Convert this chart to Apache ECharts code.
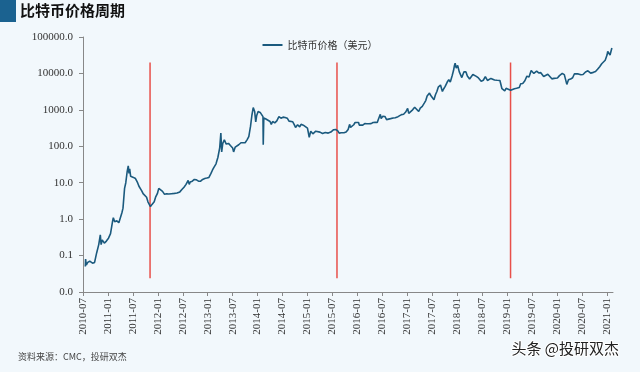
<!DOCTYPE html>
<html><head><meta charset="utf-8">
<script src="https://cdn.jsdelivr.net/npm/echarts@6/dist/echarts.min.js"></script>
<style>html,body{margin:0;padding:0;background:#f2f8fc;}#c{width:640px;height:372px;}</style>
</head><body><div id="c"></div>
<script>
const title = '比特币价格周期';
const seriesName = '比特币价格（美元）';
const source = '资料来源：CMC，投研双杰';
const watermark = '头条 @投研双杰';
const yTicks = [0.01, 0.1, 1, 10, 100, 1000, 10000, 100000];
const xTickLabels = ['2010-07','2011-01','2011-07','2012-01','2012-07','2013-01','2013-07','2014-01','2014-07','2015-01','2015-07','2016-01','2016-07','2017-01','2017-07','2018-01','2018-07','2019-01','2019-07','2020-01','2020-07','2021-01'];
const cycleDates = ['2011-11-05','2015-08-04','2019-01-27'];
const cycleRange = [0.024, 20000];
const dates = [
'2010-07-18','2010-07-20','2010-07-25','2010-08-05','2010-08-20','2010-09-10','2010-09-25','2010-10-10','2010-10-25','2010-11-06','2010-11-12','2010-11-20','2010-12-05','2010-12-20',
'2011-01-05','2011-01-20','2011-02-05','2011-02-10','2011-02-20','2011-03-05','2011-03-20','2011-04-01','2011-04-12','2011-04-20','2011-05-01','2011-05-10','2011-05-20','2011-05-28','2011-06-03','2011-06-08','2011-06-15','2011-06-25','2011-07-05','2011-07-20','2011-08-05','2011-08-15','2011-08-25','2011-09-05','2011-09-15','2011-09-25','2011-10-10','2011-10-20','2011-11-01','2011-11-08','2011-11-18','2011-11-25','2011-12-05','2011-12-15','2011-12-28',
'2012-01-08','2012-01-20','2012-02-05','2012-02-20','2012-03-05','2012-03-20','2012-04-10','2012-05-01','2012-05-20','2012-06-10','2012-06-25','2012-07-10','2012-07-25','2012-08-10','2012-08-18','2012-08-25','2012-09-10','2012-09-25','2012-10-10','2012-10-25','2012-11-10','2012-11-25','2012-12-10','2012-12-25',
'2013-01-10','2013-01-25','2013-02-05','2013-02-15','2013-03-01','2013-03-15','2013-03-28','2013-04-06','2013-04-12','2013-04-20','2013-05-01','2013-05-15','2013-06-01','2013-06-15','2013-07-01','2013-07-08','2013-07-20','2013-08-01','2013-08-15','2013-09-01','2013-09-15','2013-10-01','2013-10-15','2013-10-28','2013-11-10','2013-11-20','2013-11-30','2013-12-05','2013-12-10','2013-12-18','2013-12-25',
'2014-01-05','2014-01-20','2014-02-01','2014-02-10','2014-02-12','2014-02-16','2014-03-01','2014-03-15','2014-04-01','2014-04-10','2014-04-20','2014-05-05','2014-05-20','2014-06-05','2014-06-20','2014-07-05','2014-07-20','2014-08-05','2014-08-18','2014-09-01','2014-09-15','2014-09-25','2014-10-05','2014-10-20','2014-11-05','2014-11-15','2014-12-01','2014-12-15',
'2015-01-01','2015-01-14','2015-01-25','2015-02-10','2015-03-01','2015-03-15','2015-04-01','2015-04-20','2015-05-10','2015-06-01','2015-06-20','2015-07-10','2015-07-25','2015-08-10','2015-08-20','2015-09-05','2015-09-25','2015-10-10','2015-10-25','2015-11-05','2015-11-12','2015-11-25','2015-12-05','2015-12-15','2015-12-25',
'2016-01-10','2016-01-15','2016-01-25','2016-02-10','2016-02-25','2016-03-10','2016-03-25','2016-04-10','2016-04-25','2016-05-10','2016-05-25','2016-06-05','2016-06-17','2016-06-23','2016-07-05','2016-07-20','2016-08-02','2016-08-15','2016-09-01','2016-09-20','2016-10-05','2016-10-25','2016-11-05','2016-11-20','2016-12-05','2016-12-20',
'2017-01-04','2017-01-12','2017-01-25','2017-02-10','2017-02-25','2017-03-05','2017-03-24','2017-04-05','2017-04-20','2017-05-05','2017-05-15','2017-05-25','2017-06-05','2017-06-12','2017-06-20','2017-07-01','2017-07-14','2017-07-25','2017-08-05','2017-08-15','2017-08-25','2017-09-01','2017-09-15','2017-09-25','2017-10-05','2017-10-20','2017-11-01','2017-11-12','2017-11-25','2017-12-05','2017-12-12','2017-12-17','2017-12-25',
'2018-01-05','2018-01-17','2018-01-28','2018-02-05','2018-02-20','2018-03-05','2018-03-15','2018-04-01','2018-04-10','2018-04-25','2018-05-05','2018-05-20','2018-06-05','2018-06-25','2018-07-10','2018-07-25','2018-08-10','2018-08-20','2018-09-05','2018-09-15','2018-10-01','2018-10-20','2018-11-10','2018-11-20','2018-11-25','2018-12-05','2018-12-15','2018-12-25',
'2019-01-10','2019-01-28','2019-02-10','2019-02-25','2019-03-10','2019-03-30','2019-04-10','2019-04-25','2019-05-10','2019-05-25','2019-06-10','2019-06-26','2019-07-05','2019-07-15','2019-07-25','2019-08-05','2019-08-20','2019-09-05','2019-09-15','2019-09-26','2019-10-10','2019-10-26','2019-11-10','2019-11-25','2019-12-10','2019-12-20',
'2020-01-05','2020-01-20','2020-02-10','2020-02-25','2020-03-05','2020-03-13','2020-03-25','2020-04-10','2020-04-25','2020-05-08','2020-05-20','2020-06-05','2020-06-25','2020-07-10','2020-07-28','2020-08-15','2020-09-05','2020-09-25','2020-10-10','2020-10-25','2020-11-10','2020-11-25','2020-12-05','2020-12-20',
'2021-01-03','2021-01-08','2021-01-15','2021-01-25','2021-02-01','2021-02-08'
];
const prices = [
0.05,0.08,0.055,0.065,0.07,0.062,0.065,0.12,0.2,0.37,0.2,0.27,0.22,0.25,
0.3,0.4,0.9,1.1,0.85,0.9,0.8,0.8,1.5,2,7,10,20,29,18,24,15,16,14,13,10,8,9,6,5,4.5,4,3,3.2,2.2,2.5,2.3,3,4,5,
7,6.3,5.8,4.8,5,4.9,5,5.1,5.2,5.6,6.5,7.5,9,11.5,9,10.5,11,12.3,12,11,11,12.3,13,13.4,
14,18,22,26,33,50,90,230,70,120,150,115,120,105,90,70,95,105,110,125,130,125,150,185,350,700,1150,1050,900,470,700,
900,850,820,650,110,600,560,620,480,400,480,440,500,650,590,630,620,590,490,480,470,400,330,390,340,400,380,340,
315,175,260,220,260,285,245,225,240,230,245,285,290,265,230,235,235,245,290,400,330,330,390,450,430,
450,380,390,380,420,415,415,420,450,455,450,580,750,580,670,660,540,570,575,600,610,650,700,740,760,870,
1100,800,900,1000,1180,1250,900,1120,1250,1550,1800,2400,2600,2900,2500,2450,1900,2600,3200,4200,4300,4800,3200,3800,4400,5800,6700,5800,8500,12000,16500,19000,14000,
16500,11000,11500,7700,11000,11000,8500,7000,6800,9300,9600,8300,7500,6100,6500,8200,6400,6300,7300,6500,6600,6500,6400,4500,3800,3900,3300,3900,
3700,3450,3600,3800,3900,4100,5200,5300,6300,8400,8000,12000,11000,10000,9800,11500,10300,10500,10200,8200,8500,9500,8800,7100,7300,7200,
7500,8700,10000,9300,8800,5000,6700,7000,7600,9800,9200,9700,9200,9300,11000,11800,10200,10700,11300,13000,15300,18500,19000,23000,
32000,40000,36000,32000,35000,50000
];

function monthIndex(s) {
  const p = s.split('-').map(Number);
  return (p[0] - 2010) * 12 + (p[1] - 7) + (p[2] - 1) / 30.5;
}
function labelOf(m) {
  const total = 2010 * 12 + 6 + Math.round(m);
  const y = Math.floor(total / 12), mo = total % 12 + 1;
  return y + '-' + (mo < 10 ? '0' + mo : mo);
}
const tickVals = xTickLabels.map(l => monthIndex(l + '-01'));
const lineData = dates.map((d, i) => [monthIndex(d), prices[i]]);
const serif = 'Liberation Serif';
const sans = 'Noto Sans CJK SC';

const cycleSeries = cycleDates.map(d => ({
  type: 'line', silent: true, symbol: 'none', z: 1,
  lineStyle: { color: '#e8504a', width: 1.5 },
  data: cycleRange.map(v => [monthIndex(d), v])
}));

const chart = echarts.init(document.getElementById('c'), null, { renderer: 'canvas' });
chart.setOption({
  backgroundColor: '#f2f8fc',
  animation: false,
  graphic: [
    { type: 'rect', left: 0, top: 0, shape: { width: 16, height: 22 }, style: { fill: '#1b6290' } },
    { type: 'text', left: 20, top: 3, style: { text: title, fontFamily: sans, fontSize: 15, fontWeight: 'bold', fill: '#111' } },
    { type: 'text', left: 18, top: 352, style: { text: source, fontFamily: sans, fontSize: 9, fill: '#444' } },
    { type: 'text', right: 20, top: 340, style: { text: watermark, fontFamily: sans, fontSize: 15, fill: '#222', stroke: '#fff', lineWidth: 2 } }
  ],
  legend: {
    top: 35, left: 'center', itemWidth: 20, itemHeight: 2,
    data: [{ name: seriesName, icon: 'rect' }],
    textStyle: { fontFamily: sans, fontSize: 10, color: '#333' }
  },
  grid: { left: 83, right: 27, top: 37, bottom: 80 },
  xAxis: {
    type: 'value', min: 0, max: 127.5,
    splitLine: { show: false },
    axisLine: { lineStyle: { color: '#888' } },
    axisTick: { show: true, length: 4, lineStyle: { color: '#888' }, customValues: tickVals },
    axisLabel: { rotate: 90, customValues: tickVals, formatter: v => labelOf(v), fontFamily: serif, fontSize: 11, color: '#333', margin: 6 }
  },
  yAxis: {
    type: 'log', logBase: 10, min: 0.01, max: 100000,
    splitLine: { show: false },
    axisLine: { show: true, lineStyle: { color: '#888' } },
    axisTick: { show: true, length: 4, lineStyle: { color: '#888' } },
    axisLabel: { formatter: v => Number(v).toFixed(1), fontFamily: serif, fontSize: 11, color: '#333', margin: 10 }
  },
  series: [
    { name: seriesName, type: 'line', symbol: 'none', z: 3,
      lineStyle: { color: '#1b5a7e', width: 1.6 }, itemStyle: { color: '#1b5a7e' },
      data: lineData }
  ].concat(cycleSeries)
});
</script></body></html>
